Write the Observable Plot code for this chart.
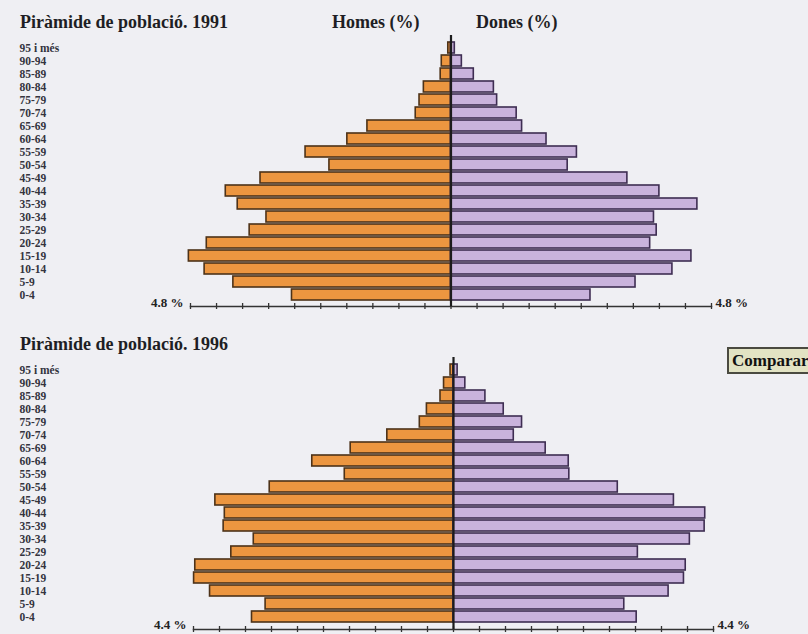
<!DOCTYPE html>
<html><head><meta charset="utf-8">
<script src="https://cdn.jsdelivr.net/npm/d3@7"></script>
<script src="https://cdn.jsdelivr.net/npm/@observablehq/plot@0.6"></script>
<style>
body{margin:0;background:#efeff3;}
#wrap{position:relative;width:808px;height:634px;overflow:hidden;font-family:"Liberation Serif",serif;background:#efeff3;}
.t{position:absolute;font-weight:bold;color:#1e1e24;white-space:nowrap;font-size:18px;line-height:18px;}
#wrap svg{position:absolute;left:0;}
.btn{position:absolute;left:727px;top:347px;width:90px;height:23px;background:#e2e3c3;border:2px solid #4a4a40;font-weight:bold;font-size:17px;line-height:23px;padding-left:3px;color:#111;white-space:nowrap;}
</style></head><body><div id="wrap"></div>
<script>
const ageGroups = ["95 i més","90-94","85-89","80-84","75-79","70-74","65-69","60-64","55-59","50-54","45-49","40-44","35-39","30-34","25-29","20-24","15-19","10-14","5-9","0-4"];
const men1991   = [0.05,0.17,0.19,0.50,0.58,0.65,1.54,1.91,2.68,2.24,3.51,4.15,3.93,3.40,3.71,4.50,4.83,4.54,4.01,2.93];
const women1991 = [0.07,0.20,0.42,0.79,0.85,1.21,1.31,1.76,2.32,2.15,3.25,3.84,4.54,3.74,3.79,3.67,4.43,4.08,3.40,2.57];
const men1996   = [0.05,0.16,0.22,0.45,0.57,1.12,1.74,2.39,1.84,3.11,4.03,3.87,3.89,3.38,3.76,4.37,4.39,4.12,3.18,3.41];
const women1996 = [0.07,0.20,0.54,0.85,1.16,1.02,1.56,1.95,1.96,2.78,3.73,4.26,4.25,4.00,3.12,3.93,3.90,3.64,2.89,3.10];
const titles = ["Piràmide de població. 1991","Piràmide de població. 1996"];
const sexLabels = ["Homes (%)","Dones (%)"];
const maxes = [4.8, 4.4];
const endLabels = ["4.8 %","4.4 %"];
const buttonLabel = "Comparar";

const wrap = document.getElementById("wrap");

function pyramid(men, women, max, endLabel, cfg) {
  const rows = ageGroups.map((a, i) => ({age: a, men: -men[i], women: women[i]}));
  const ticks = d3.range(-10, 11).map(i => i * max / 10);
  const svg = Plot.plot({
    width: 808, height: cfg.height,
    marginTop: cfg.marginTop, marginBottom: cfg.marginBottom,
    marginLeft: cfg.marginLeft, marginRight: cfg.marginRight,
    style: {background: "transparent", fontFamily: "Liberation Serif, serif", overflow: "visible"},
    x: {domain: [-max, max], axis: null},
    y: {domain: ageGroups, axis: null, paddingInner: 0.16, paddingOuter: 0.08},
    marks: [
      Plot.barX(rows, {x: "men", y: "age", fill: "#ec9640", stroke: "#4d3218", strokeWidth: 1.6}),
      Plot.barX(rows, {x: "women", y: "age", fill: "#c9b3dc", stroke: "#3e2d52", strokeWidth: 1.6}),
      Plot.frame({anchor: "bottom", stroke: "#333", strokeWidth: 1.5}),
      Plot.axisX({ticks, tickSize: 6, tickFormat: () => "", dy: -3, stroke: "#333", strokeWidth: 1.3}),
      Plot.ruleX([0], {stroke: "#1c1c1c", strokeWidth: 2.2}),
      Plot.text(ageGroups, {y: d => d, text: d => d, frameAnchor: "left", textAnchor: "start",
        dx: 19 - cfg.marginLeft, fontSize: 11.5, fontWeight: "bold", fill: "#34343e", letterSpacing: "0.4px"}),
      Plot.text([-max], {x: d => d, text: () => endLabel, frameAnchor: "bottom", lineAnchor: "middle",
        textAnchor: "end", dx: -7, dy: cfg.labelDy, fontSize: 13, fontWeight: "bold", fill: "#222"}),
      Plot.text([max], {x: d => d, text: () => endLabel, frameAnchor: "bottom", lineAnchor: "middle",
        textAnchor: "start", dx: 4, dy: cfg.labelDy, fontSize: 13, fontWeight: "bold", fill: "#222"})
    ]
  });
  svg.style.top = cfg.top + "px";
  wrap.appendChild(svg);
}

pyramid(men1991, women1991, maxes[0], endLabels[0],
  {top: 0, height: 320, marginTop: 35, marginBottom: 14, marginLeft: 190, marginRight: 97, labelDy: -4});
pyramid(men1996, women1996, maxes[1], endLabels[1],
  {top: 320, height: 314, marginTop: 37, marginBottom: 5, marginLeft: 193, marginRight: 95, labelDy: -5});

function addText(txt, left, top, cls) {
  const d = document.createElement("div");
  d.className = cls; d.textContent = txt;
  d.style.left = left + "px"; d.style.top = top + "px";
  wrap.appendChild(d);
}
addText(titles[0], 20, 13, "t");
addText(sexLabels[0], 332, 13, "t");
addText(sexLabels[1], 476, 13, "t");
addText(titles[1], 20, 335, "t");
addText(buttonLabel, 727, 347, "btn");
</script>
</body></html>
